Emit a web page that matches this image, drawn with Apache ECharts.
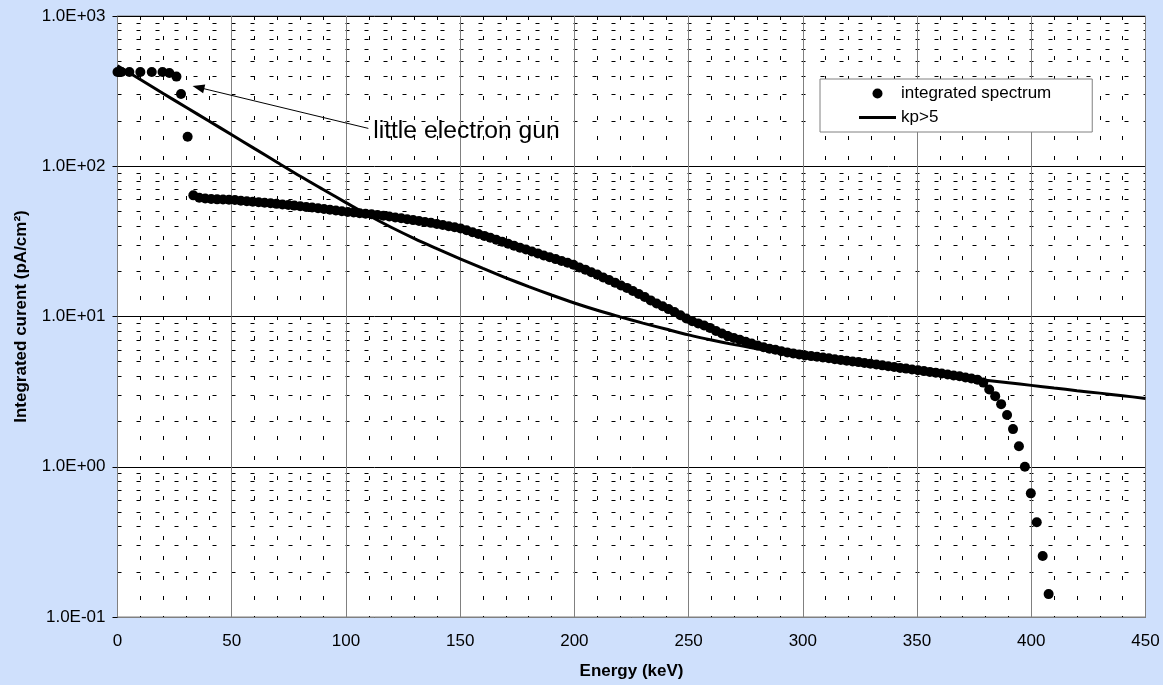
<!DOCTYPE html>
<html><head><meta charset="utf-8">
<script src="https://cdn.jsdelivr.net/npm/echarts@6/dist/echarts.min.js"></script>
<style>html,body{margin:0;padding:0;background:#CFE0FC;}#c{width:1163px;height:685px;}</style>
</head><body><div id="c"></div>
<script>
// "little electron gun" points
const gunEnergy  = [0, 1.7, 5.2, 10, 15, 19.7, 22.7, 25.8, 27.8, 30.7];
const gunCurrent = [424, 424, 424, 424, 424, 424, 418, 395, 303, 157];

// integrated spectrum (keV, pA/cm²)
const spectrumEnergy = [
  33.2, 35.8, 38.4, 41.0, 43.6, 46.2, 48.8, 51.4, 54.0, 56.6,
  59.2, 61.8, 64.4, 67.0, 69.6, 72.2, 74.8, 77.4, 80.0, 82.6,
  85.2, 87.8, 90.4, 93.0, 95.6, 98.2, 100.8, 103.4, 106.0, 108.6,
  111.2, 113.8, 116.4, 119.0, 121.6, 124.2, 126.8, 129.4, 132.0, 134.6,
  137.2, 139.8, 142.4, 145.0, 147.6, 150.2, 152.8, 155.4, 158.0, 160.6,
  163.2, 165.8, 168.4, 171.0, 173.6, 176.2, 178.8, 181.4, 184.0, 186.6,
  189.2, 191.8, 194.4, 197.0, 199.6, 202.2, 204.8, 207.4, 210.0, 212.6,
  215.2, 217.8, 220.4, 223.0, 225.6, 228.2, 230.8, 233.4, 236.0, 238.6,
  241.2, 243.8, 246.4, 249.0, 251.6, 254.2, 256.8, 259.4, 262.0, 264.6,
  267.2, 269.8, 272.4, 275.0, 277.6, 280.2, 282.8, 285.4, 288.0, 290.6,
  293.2, 295.8, 298.4, 301.0, 303.6, 306.2, 308.8, 311.4, 314.0, 316.6,
  319.2, 321.8, 324.4, 327.0, 329.6, 332.2, 334.8, 337.4, 340.0, 342.6,
  345.2, 347.8, 350.4, 353.0, 355.6, 358.2, 360.8, 363.4, 366.0, 368.6,
  371.2, 373.8, 376.4, 379.0, 381.6, 384.2, 386.8, 389.4, 392.0, 394.6,
  397.2, 399.8, 402.4, 405.0, 407.6
];
const spectrumCurrent = [
  64.0, 61.7, 61.0, 60.5, 60.2, 60.0, 59.8, 59.6, 59.0, 58.5,
  58.1, 57.6, 57.1, 56.7, 56.2, 55.7, 55.3, 54.7, 54.2, 53.6,
  53.1, 52.6, 52.0, 51.4, 50.8, 50.2, 49.6, 49.2, 48.7, 48.3,
  47.9, 47.4, 46.9, 46.3, 45.6, 45.1, 44.4, 43.8, 43.2, 42.6,
  42.0, 41.3, 40.6, 39.9, 39.3, 38.5, 37.5, 36.4, 35.4, 34.4,
  33.4, 32.4, 31.4, 30.5, 29.6, 28.7, 27.9, 27.1, 26.3, 25.5,
  24.8, 24.1, 23.4, 22.8, 22.1, 21.2, 20.5, 19.7, 19.0, 18.2,
  17.5, 16.8, 16.1, 15.5, 14.8, 14.1, 13.5, 12.8, 12.2, 11.7,
  11.2, 10.7, 10.2, 9.7, 9.3, 9.0, 8.7, 8.4, 8.0, 7.7,
  7.4, 7.2, 7.0, 6.8, 6.6, 6.4, 6.25, 6.1, 6.0, 5.87,
  5.77, 5.68, 5.59, 5.51, 5.45, 5.39, 5.33, 5.27, 5.20, 5.14,
  5.08, 5.02, 4.97, 4.91, 4.85, 4.79, 4.73, 4.67, 4.61, 4.55,
  4.50, 4.44, 4.39, 4.33, 4.28, 4.23, 4.17, 4.11, 4.05, 4.00,
  3.93, 3.87, 3.80, 3.63, 3.27, 2.95, 2.61, 2.21, 1.78, 1.37,
  1.00, 0.665, 0.427, 0.255, 0.142
];

// kp>5 curve
const kpEnergy = [0, 10, 20, 30, 40, 50, 60, 70, 80, 90, 100, 110, 120, 130, 140, 150,
  160, 170, 180, 190, 200, 210, 220, 230, 240, 250, 260, 270, 280, 290, 300,
  310, 320, 330, 340, 350, 360, 370, 380, 390, 400, 410, 420, 430, 440, 450];
const kpCurrent = [467, 378, 305, 247, 200, 162, 131, 106, 85.7, 70.0, 57.3, 47.0, 39.1, 33.0, 28.2, 24.2,
  20.9, 18.1, 15.8, 13.9, 12.3, 11.0, 9.95, 9.03, 8.25, 7.55, 6.98, 6.50, 6.10, 5.75, 5.45,
  5.18, 4.93, 4.70, 4.48, 4.28, 4.09, 3.91, 3.76, 3.62, 3.48, 3.34, 3.21, 3.09, 2.97, 2.85];

// annotation (data coordinates)
const annotation = {
  text: 'little electron gun',
  textAt: [111.7, 172.3],
  tail: [109.8, 178.6],
  tip: [35.4, 335]
};

const FONT = 'Liberation Sans, Arial, sans-serif';
const zip = (xs, ys) => xs.map((x, i) => [x, ys[i]]);
const spectrumData = zip(gunEnergy, gunCurrent).concat(zip(spectrumEnergy, spectrumCurrent));
const kpData = zip(kpEnergy, kpCurrent);
const fmtExp = v => {
  const parts = Number(v).toExponential(1).split('e');
  return parts[0] + 'E' + parts[1][0] + parts[1].slice(1).padStart(2, '0');
};

const chart = echarts.init(document.getElementById('c'), null, { renderer: 'canvas' });
chart.setOption({
  backgroundColor: '#CFE0FC',
  animation: false,
  textStyle: { fontFamily: FONT },
  grid: { left: 117.5, right: 17.5, top: 16, bottom: 68, show: true, backgroundColor: '#fff', borderColor: '#808080', borderWidth: 1 },
  legend: {
    orient: 'vertical', left: 820, top: 79,
    itemWidth: 37, itemHeight: 10, itemGap: 7,
    padding: [6, 41, 6, 39],
    backgroundColor: '#fff', borderColor: '#808080', borderWidth: 1, borderRadius: 0,
    textStyle: { fontSize: 17, lineHeight: 17, color: '#000', fontFamily: FONT },
    data: [
      { name: 'integrated spectrum', icon: 'circle' },
      { name: 'kp>5', icon: 'path://M0,0H37V3H0Z', itemStyle: { color: '#000' } }
    ]
  },
  xAxis: {
    type: 'value', min: 0, max: 450, interval: 50,
    axisLine: { show: true, lineStyle: { color: '#808080' } },
    axisTick: { show: false },
    axisLabel: { fontSize: 17, color: '#000', margin: 16, fontFamily: FONT },
    splitLine: { show: true, lineStyle: { color: '#808080', width: 1 } },
    minorTick: { show: false, splitNumber: 5 },
    minorSplitLine: { show: true, lineStyle: { color: '#000', width: 1, type: [4, 16] } },
    name: 'Energy (keV)', nameLocation: 'middle', nameGap: 46,
    nameTextStyle: { fontSize: 17, fontWeight: 'bold', color: '#000', fontFamily: FONT }
  },
  yAxis: {
    type: 'log', logBase: 10, min: 0.1, max: 1000,
    axisLine: { show: true, lineStyle: { color: '#808080' } },
    axisTick: { show: true, length: 5, lineStyle: { color: '#000' } },
    axisLabel: { fontSize: 17, color: '#000', margin: 12, fontFamily: FONT, formatter: fmtExp },
    splitLine: { show: true, lineStyle: { color: '#000', width: 1 } },
    minorTick: { show: false, splitNumber: 9 },
    minorSplitLine: { show: true, lineStyle: { color: '#000', width: 1, type: [4, 15] } },
    name: 'Integrated curent (pA/cm²)', nameLocation: 'middle', nameGap: 88, nameRotate: 90,
    nameTextStyle: { fontSize: 17, fontWeight: 'bold', color: '#000', fontFamily: FONT }
  },
  series: [
    {
      name: 'integrated spectrum', type: 'scatter', data: spectrumData,
      symbol: 'circle', symbolSize: 10, clip: false, z: 3,
      itemStyle: { color: '#000', opacity: 1 },
      emphasis: { disabled: true }
    },
    {
      name: 'kp>5', type: 'line', data: kpData, smooth: 0.3,
      symbol: 'none', showSymbol: false, z: 4,
      lineStyle: { color: '#000', width: 3 }, itemStyle: { color: '#000' },
      emphasis: { disabled: true },
      markLine: {
        silent: true, symbol: ['none', 'triangle'], symbolSize: [9, 12],
        label: { show: false },
        lineStyle: { color: '#000', width: 1, type: 'solid' },
        emphasis: { disabled: true },
        data: [[{ coord: annotation.tail }, { coord: annotation.tip }]]
      },
      markPoint: {
        silent: true, symbol: 'circle', symbolSize: 1,
        itemStyle: { color: 'rgba(0,0,0,0)' },
        label: { show: true, position: 'right', distance: 0, formatter: annotation.text, fontSize: 24.7, color: '#000', fontFamily: FONT },
        data: [{ coord: annotation.textAt }]
      }
    }
  ]
});
</script>
</body></html>
